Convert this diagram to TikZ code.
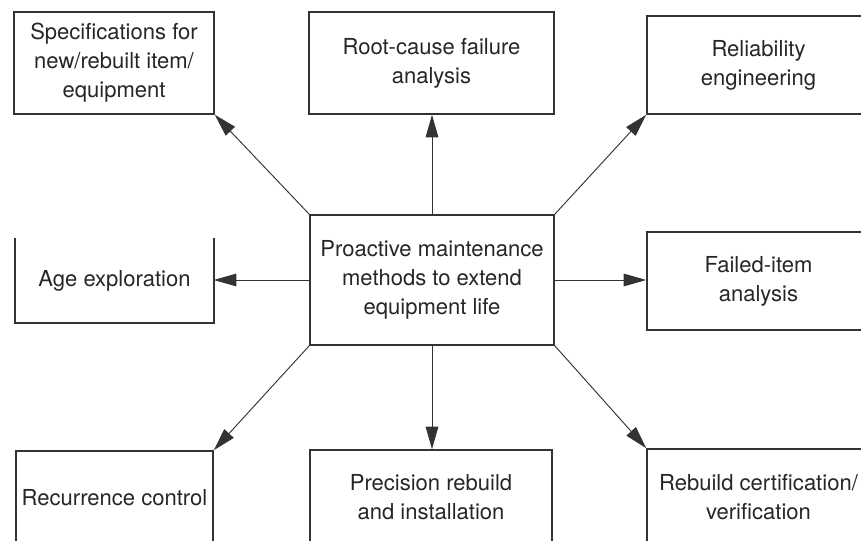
\documentclass[tikz,border=0pt]{standalone}
\usepackage{fontspec}
\setmainfont{TeX Gyre Heros}
\usetikzlibrary{arrows.meta}
\tikzset{
  caja/.style={draw=black!80, line width=1.3pt, align=center, text=black!85, inner sep=0pt, font=\fontsize{18.8}{24.7}\selectfont},
  cajaabierta/.style={caja, draw=none},
  flecha/.style={draw=black!80, line width=0.8pt, -{Triangle[length=6.8mm,width=3.8mm]}},
}

\begin{document}
\begin{tikzpicture}[x=0.03cm, y=-0.03cm]
          \useasboundingbox (0,0) rectangle (861,541);
          % fila de arriba
          \node[caja, minimum width=6cm, minimum height=3.06cm] (espec) at (114,63) {Specifications for\\new/rebuilt item/\\equipment};
          \node[caja, minimum width=7.35cm, minimum height=3.06cm] (raiz) at (431.5,63) {Root-cause failure\\analysis};
          \node[caja, minimum width=6.69cm, minimum height=2.94cm] (fiab) at (758.5,65) {Reliability\\engineering};
          % fila del medio
          \node[cajaabierta, minimum width=5.91cm, minimum height=2.49cm] (edad) at (114.5,280.5) {Age exploration};
          \draw[draw=black!80, line width=1.3pt] (edad.north west) -- (edad.south west) -- (edad.south east) -- (edad.north east);
          \node[caja, minimum width=7.32cm, minimum height=3.9cm] (centro) at (432,280) {Proactive maintenance\\methods to extend\\equipment life};
          \node[caja, minimum width=6.69cm, minimum height=2.94cm] (fallo) at (758.5,281) {Failed-item\\analysis};
          % fila de abajo
          \node[caja, minimum width=5.91cm, minimum height=2.82cm] (recur) at (114.5,498) {Recurrence control};
          \node[caja, minimum width=7.26cm, minimum height=2.85cm] (precision) at (431,497.5) {Precision rebuild\\and installation};
          \node[caja, minimum width=6.69cm, minimum height=2.88cm] (certif) at (758.5,497) {Rebuild certification/\\verification};
          % flechas
          \draw[flecha] (centro.north west) -- (espec.south east);
          \draw[flecha] (centro.north) -- (centro.north |- raiz.south);
          \draw[flecha] (centro.north east) -- (fiab.south west);
          \draw[flecha] (centro.west) -- (centro.west -| edad.east);
          \draw[flecha] (centro.east) -- (centro.east -| fallo.west);
          \draw[flecha] (centro.south west) -- (recur.north east);
          \draw[flecha] (centro.south) -- (centro.south |- precision.north);
          \draw[flecha] (centro.south east) -- (certif.north west);
        \end{tikzpicture}
\end{document}
